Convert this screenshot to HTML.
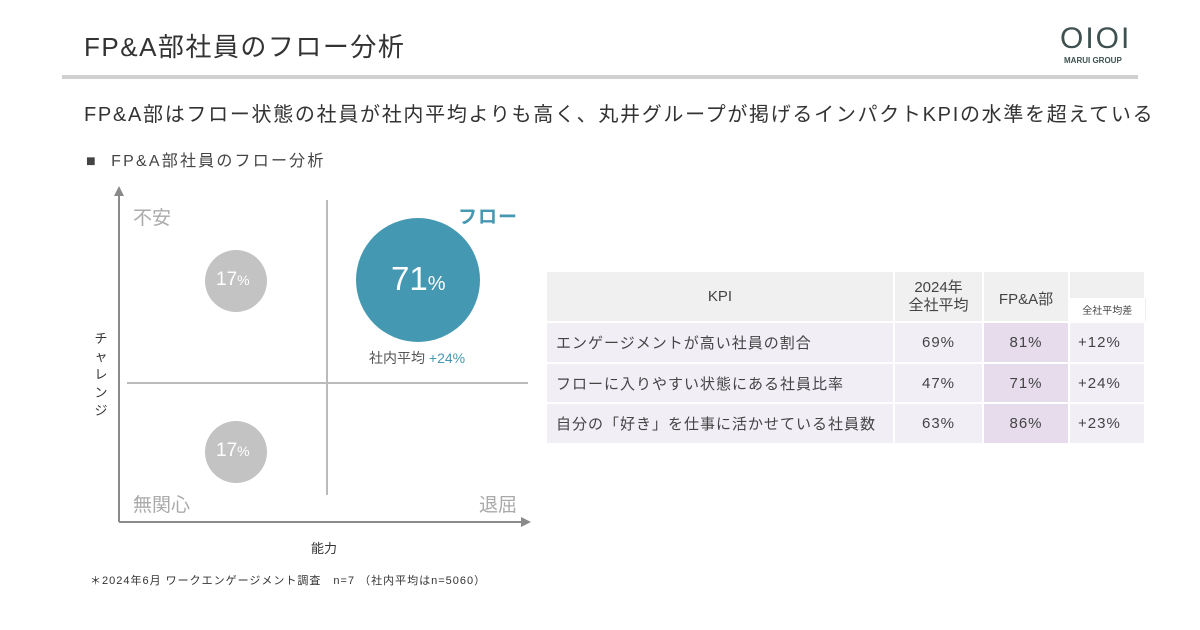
<!DOCTYPE html>
<html><head><meta charset="utf-8"><style>
body{margin:0;width:1200px;height:630px;background:#fff;position:relative;overflow:hidden;font-family:"Liberation Sans","Noto Sans CJK JP",sans-serif;color:#444}
.a{position:absolute;white-space:nowrap}
table{position:absolute;left:545px;top:270px;border-collapse:collapse;font-size:15px;color:#444}
td{border:2px solid #fff;padding:0;text-align:center}
</style></head><body>
<div class="a" style="left:84px;top:27px;font-size:26px;color:#333;letter-spacing:1.5px">FP&amp;A部社員のフロー分析</div>
<div class="a" style="left:62px;top:75px;width:1076px;height:4px;background:#d0d0d0"></div>
<div class="a" style="left:1060px;top:24px;font-size:30px;color:#3e5050;letter-spacing:2px;font-weight:300;line-height:30px">OIOI</div>
<div class="a" style="left:1064px;top:56px;font-size:8px;color:#3e5050;font-weight:bold">MARUI GROUP</div>
<div class="a" style="left:84px;top:98px;font-size:20px;color:#333;letter-spacing:1.7px">FP&amp;A部はフロー状態の社員が社内平均よりも高く、丸井グループが掲げるインパクトKPIの水準を超えている</div>
<div class="a" style="left:86px;top:147px;font-size:16px;color:#444;letter-spacing:2.2px">■&nbsp; FP&amp;A部社員のフロー分析</div>
<svg class="a" style="left:0;top:0" width="560" height="600">
<line x1="119" y1="195" x2="119" y2="522" stroke="#8a8a8a" stroke-width="2"/>
<polygon points="119,186 114,196 124,196" fill="#8a8a8a"/>
<line x1="119" y1="522" x2="522" y2="522" stroke="#8a8a8a" stroke-width="2"/>
<polygon points="531,522 521,517 521,527" fill="#8a8a8a"/>
<line x1="327" y1="200" x2="327" y2="495" stroke="#bbb" stroke-width="2"/>
<line x1="127" y1="383" x2="528" y2="383" stroke="#bbb" stroke-width="2"/>
<circle cx="236" cy="281" r="31" fill="#c3c3c3"/>
<circle cx="236" cy="452" r="31" fill="#c3c3c3"/>
<circle cx="418" cy="280" r="62" fill="#4598b1"/>
</svg>
<div class="a" style="left:133px;top:203px;font-size:19px;color:#aaa">不安</div>
<div class="a" style="left:133px;top:490px;font-size:19px;color:#aaa">無関心</div>
<div class="a" style="left:479px;top:490px;font-size:19px;color:#aaa">退屈</div>
<div class="a" style="left:458px;top:202px;font-size:19px;color:#4598b1;font-weight:bold;letter-spacing:1px">フロー</div>
<div class="a" style="left:216px;top:269px;font-size:19px;color:#fff">17<span style="font-size:14px">%</span></div>
<div class="a" style="left:216px;top:440px;font-size:19px;color:#fff">17<span style="font-size:14px">%</span></div>
<div class="a" style="left:391px;top:260px;font-size:33px;color:#fff">71<span style="font-size:20px">%</span></div>
<div class="a" style="left:369px;top:348px;font-size:14px;color:#555">社内平均 <span style="color:#4598b1">+24%</span></div>
<div class="a" style="left:94px;top:330px;width:14px;font-size:13px;color:#333;white-space:normal;line-height:18px;text-align:center">チャレンジ</div>
<div class="a" style="left:311px;top:538px;font-size:13px;color:#333">能力</div>
<div class="a" style="left:90px;top:572px;font-size:11px;color:#333;letter-spacing:1px">＊2024年6月 ワークエンゲージメント調査　n=7 （社内平均はn=5060）</div>
<table>
<tr style="height:26px"><td rowspan="2" style="width:346px;background:#f0f0f0">KPI</td><td rowspan="2" style="width:87px;background:#f0f0f0;line-height:18px">2024年<br>全社平均</td><td rowspan="2" style="width:84px;background:#f0f0f0;vertical-align:top;padding-top:16px">FP&amp;A部</td><td style="width:74px;background:#f0f0f0;border-bottom:none"></td></tr>
<tr style="height:25px"><td style="background:#fff;border:1px solid #eee;font-size:10px">全社平均差</td></tr>
<tr style="height:41px;background:#f2eef6;letter-spacing:1px"><td style="text-align:left;padding-left:9px">エンゲージメントが高い社員の割合</td><td>69%</td><td style="background:#e6dcec">81%</td><td style="text-align:left;padding-left:8px">+12%</td></tr>
<tr style="height:40px;background:#f2eef6;letter-spacing:1px"><td style="text-align:left;padding-left:9px">フローに入りやすい状態にある社員比率</td><td>47%</td><td style="background:#e6dcec">71%</td><td style="text-align:left;padding-left:8px">+24%</td></tr>
<tr style="height:41px;background:#f2eef6;letter-spacing:1px"><td style="text-align:left;padding-left:9px">自分の「好き」を仕事に活かせている社員数</td><td>63%</td><td style="background:#e6dcec">86%</td><td style="text-align:left;padding-left:8px">+23%</td></tr>
</table>
</body></html>
